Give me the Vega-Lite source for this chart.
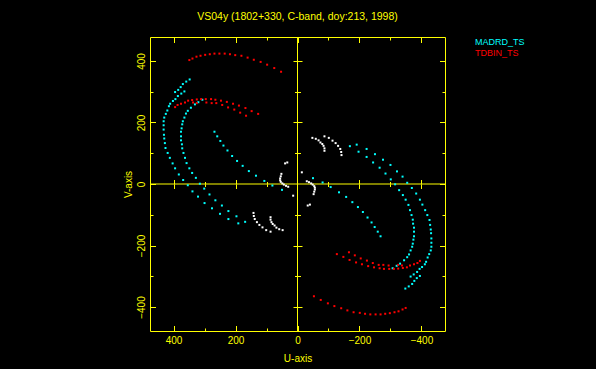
{
  "$schema": "https://vega.github.io/schema/vega-lite/v6.json",
  "width": 295,
  "height": 294,
  "autosize": {"type": "none"},
  "padding": {"left": 150, "top": 37, "right": 151, "bottom": 38},
  "background": "#000000",
  "title": {"text": "VS04y (1802+330, C-band, doy:213, 1998)", "color": "#ffff00", "font": "Liberation Sans", "fontSize": 10.5, "fontWeight": "normal", "anchor": "middle", "frame": "group", "baseline": "alphabetic", "offset": 6.5},
  "config": {"view": {"stroke": "#ffff00", "strokeWidth": 1}},
  "resolve": {"axis": {"x": "independent", "y": "independent"}},
  "layer": [
    {
      "data": {"values": [{"z": 0}]},
      "mark": {"type": "rule", "color": "#ffff00", "strokeWidth": 1},
      "encoding": {"x": {"field": "z", "type": "quantitative", "scale": {"domain": [-476, 476], "reverse": true, "nice": false, "zero": false}, "axis": null}}
    },
    {
      "data": {"values": [{"z": 0}]},
      "mark": {"type": "rule", "color": "#ffff00", "strokeWidth": 1},
      "encoding": {"y": {"field": "z", "type": "quantitative", "scale": {"domain": [-478, 478], "nice": false, "zero": false}, "axis": null}}
    },
    {
      "data": {"values": [{"u": 0, "v": 0}]},
      "mark": {"type": "point", "opacity": 0},
      "encoding": {
        "x": {"field": "u", "type": "quantitative", "axis": {"orient": "bottom", "values": [-400, -200, 0, 200, 400], "domain": false, "grid": false, "ticks": false, "labels": true, "labelColor": "#ffff00", "labelFont": "Liberation Sans", "labelFontSize": 10, "labelBaseline": "alphabetic", "labelPadding": 12, "labelFlush": false, "labelOverlap": false, "title": "U-axis", "titleColor": "#ffff00", "titleFont": "Liberation Sans", "titleFontSize": 10, "titleFontWeight": "normal", "titleBaseline": "alphabetic", "titleY": 30.7}},
        "y": {"field": "v", "type": "quantitative", "axis": {"orient": "left", "values": [-400, -200, 0, 200, 400], "domain": false, "grid": false, "ticks": false, "labels": true, "labelColor": "#ffff00", "labelFont": "Liberation Sans", "labelFontSize": 10, "labelAngle": 270, "labelAlign": "center", "labelBaseline": "alphabetic", "labelPadding": 5.3, "labelFlush": false, "labelOverlap": false, "title": "V-axis", "titleColor": "#ffff00", "titleFont": "Liberation Sans", "titleFontSize": 10, "titleFontWeight": "normal", "titleAngle": 270, "titleAlign": "center", "titleBaseline": "alphabetic", "titleX": -18.6, "titleY": 147}}
      }
    },
    {
      "data": {"values": [{"u": 0, "v": 0}]},
      "mark": {"type": "point", "opacity": 0},
      "encoding": {
        "x": {"field": "u", "type": "quantitative", "axis": {"orient": "bottom", "values": [-400, -200, 0, 200, 400], "domain": false, "grid": false, "labels": false, "title": null, "tickColor": "#ffff00", "tickSize": -5.5}},
        "y": {"field": "v", "type": "quantitative", "axis": {"orient": "left", "values": [-400, -200, 0, 200, 400], "domain": false, "grid": false, "labels": false, "title": null, "tickColor": "#ffff00", "tickSize": -5.5}}
      }
    },
    {
      "data": {"values": [{"u": 0, "v": 0}]},
      "mark": {"type": "point", "opacity": 0},
      "encoding": {
        "x": {"field": "u", "type": "quantitative", "axis": {"orient": "bottom", "values": [-300, -100, 100, 300], "domain": false, "grid": false, "labels": false, "title": null, "tickColor": "#ffff00", "tickSize": -3}},
        "y": {"field": "v", "type": "quantitative", "axis": {"orient": "left", "values": [-300, -100, 100, 300], "domain": false, "grid": false, "labels": false, "title": null, "tickColor": "#ffff00", "tickSize": -3}}
      }
    },
    {
      "data": {"values": [{"u": 0, "v": 0}]},
      "mark": {"type": "point", "opacity": 0},
      "encoding": {
        "x": {"field": "u", "type": "quantitative", "axis": {"orient": "top", "values": [-400, -200, 0, 200, 400], "domain": false, "grid": false, "labels": false, "title": null, "tickColor": "#ffff00", "tickSize": -5.5}},
        "y": {"field": "v", "type": "quantitative", "axis": {"orient": "right", "values": [-400, -200, 0, 200, 400], "domain": false, "grid": false, "labels": false, "title": null, "tickColor": "#ffff00", "tickSize": -5.5}}
      }
    },
    {
      "data": {"values": [{"u": 0, "v": 0}]},
      "mark": {"type": "point", "opacity": 0},
      "encoding": {
        "x": {"field": "u", "type": "quantitative", "axis": {"orient": "top", "values": [-300, -100, 100, 300], "domain": false, "grid": false, "labels": false, "title": null, "tickColor": "#ffff00", "tickSize": -3}},
        "y": {"field": "v", "type": "quantitative", "axis": {"orient": "right", "values": [-300, -100, 100, 300], "domain": false, "grid": false, "labels": false, "title": null, "tickColor": "#ffff00", "tickSize": -3}}
      }
    },
    {
      "data": {"values": [{"u": 0, "v": 0}]},
      "mark": {"type": "point", "opacity": 0},
      "encoding": {
        "x": {"field": "u", "type": "quantitative", "axis": {"orient": "bottom", "offset": -147, "values": [-400, -200, 200, 400], "domain": false, "grid": false, "labels": false, "title": null, "tickColor": "#ffff00", "tickSize": 4.5}},
        "y": {"field": "v", "type": "quantitative", "axis": {"orient": "left", "offset": -147.5, "values": [-400, -200, 200, 400], "domain": false, "grid": false, "labels": false, "title": null, "tickColor": "#ffff00", "tickSize": 4.5}}
      }
    },
    {
      "data": {"values": [{"u": 0, "v": 0}]},
      "mark": {"type": "point", "opacity": 0},
      "encoding": {
        "x": {"field": "u", "type": "quantitative", "axis": {"orient": "bottom", "offset": -147, "values": [-300, -100, 100, 300], "domain": false, "grid": false, "labels": false, "title": null, "tickColor": "#ffff00", "tickSize": 2.5}},
        "y": {"field": "v", "type": "quantitative", "axis": {"orient": "left", "offset": -147.5, "values": [-300, -100, 100, 300], "domain": false, "grid": false, "labels": false, "title": null, "tickColor": "#ffff00", "tickSize": 3}}
      }
    },
    {
      "data": {"values": [{"u": 0, "v": 0}]},
      "mark": {"type": "point", "opacity": 0},
      "encoding": {
        "x": {"field": "u", "type": "quantitative", "axis": {"orient": "top", "offset": -147, "values": [-400, -200, 200, 400], "domain": false, "grid": false, "labels": false, "title": null, "tickColor": "#ffff00", "tickSize": 4.5}},
        "y": {"field": "v", "type": "quantitative", "axis": {"orient": "right", "offset": -147.5, "values": [-400, -200, 200, 400], "domain": false, "grid": false, "labels": false, "title": null, "tickColor": "#ffff00", "tickSize": 4.5}}
      }
    },
    {
      "data": {"values": [{"u": 0, "v": 0}]},
      "mark": {"type": "point", "opacity": 0},
      "encoding": {
        "x": {"field": "u", "type": "quantitative", "axis": {"orient": "top", "offset": -147, "values": [-300, -100, 100, 300], "domain": false, "grid": false, "labels": false, "title": null, "tickColor": "#ffff00", "tickSize": 2.5}},
        "y": {"field": "v", "type": "quantitative", "axis": {"orient": "right", "offset": -147.5, "values": [-300, -100, 100, 300], "domain": false, "grid": false, "labels": false, "title": null, "tickColor": "#ffff00", "tickSize": 3}}
      }
    },
    {
      "data": {"values": [
        {"u":348,"v":340,"s":"MADRD_TS"},{"u":359,"v":333,"s":"MADRD_TS"},{"u":370,"v":325,"s":"MADRD_TS"},{"u":377,"v":315,"s":"MADRD_TS"},{"u":385,"v":306,"s":"MADRD_TS"},{"u":395,"v":299,"s":"MADRD_TS"},{"u":365,"v":301,"s":"MADRD_TS"},{"u":375,"v":294,"s":"MADRD_TS"},{"u":386,"v":286,"s":"MADRD_TS"},{"u":394,"v":276,"s":"MADRD_TS"},{"u":402,"v":270,"s":"MADRD_TS"},{"u":411,"v":261,"s":"MADRD_TS"},{"u":415,"v":253,"s":"MADRD_TS"},{"u":420,"v":239,"s":"MADRD_TS"},{"u":425,"v":228,"s":"MADRD_TS"},{"u":430,"v":216,"s":"MADRD_TS"},{"u":432,"v":204,"s":"MADRD_TS"},{"u":432,"v":191,"s":"MADRD_TS"},{"u":432,"v":177,"s":"MADRD_TS"},{"u":431,"v":160,"s":"MADRD_TS"},{"u":430,"v":148,"s":"MADRD_TS"},{"u":428,"v":133,"s":"MADRD_TS"},{"u":426,"v":117,"s":"MADRD_TS"},{"u":419,"v":101,"s":"MADRD_TS"},{"u":412,"v":85,"s":"MADRD_TS"},{"u":403,"v":67,"s":"MADRD_TS"},{"u":395,"v":51,"s":"MADRD_TS"},{"u":383,"v":31,"s":"MADRD_TS"},{"u":369,"v":13,"s":"MADRD_TS"},{"u":354,"v":-4,"s":"MADRD_TS"},{"u":339,"v":-24,"s":"MADRD_TS"},{"u":321,"v":-41,"s":"MADRD_TS"},{"u":300,"v":-62,"s":"MADRD_TS"},{"u":276,"v":-79,"s":"MADRD_TS"},{"u":250,"v":-97,"s":"MADRD_TS"},{"u":223,"v":-114,"s":"MADRD_TS"},{"u":191,"v":-128,"s":"MADRD_TS"},
        {"u":307,"v":274,"s":"MADRD_TS"},{"u":320,"v":266,"s":"MADRD_TS"},{"u":331,"v":259,"s":"MADRD_TS"},{"u":344,"v":248,"s":"MADRD_TS"},{"u":354,"v":238,"s":"MADRD_TS"},{"u":360,"v":229,"s":"MADRD_TS"},{"u":365,"v":216,"s":"MADRD_TS"},{"u":370,"v":204,"s":"MADRD_TS"},{"u":372,"v":194,"s":"MADRD_TS"},{"u":374,"v":181,"s":"MADRD_TS"},{"u":376,"v":170,"s":"MADRD_TS"},{"u":376,"v":155,"s":"MADRD_TS"},{"u":376,"v":142,"s":"MADRD_TS"},{"u":373,"v":129,"s":"MADRD_TS"},{"u":372,"v":116,"s":"MADRD_TS"},{"u":368,"v":101,"s":"MADRD_TS"},{"u":363,"v":85,"s":"MADRD_TS"},{"u":358,"v":68,"s":"MADRD_TS"},{"u":349,"v":51,"s":"MADRD_TS"},{"u":340,"v":36,"s":"MADRD_TS"},{"u":328,"v":20,"s":"MADRD_TS"},{"u":315,"v":1,"s":"MADRD_TS"},{"u":301,"v":-15,"s":"MADRD_TS"},{"u":284,"v":-34,"s":"MADRD_TS"},{"u":265,"v":-53,"s":"MADRD_TS"},{"u":244,"v":-70,"s":"MADRD_TS"},{"u":223,"v":-88,"s":"MADRD_TS"},{"u":197,"v":-105,"s":"MADRD_TS"},{"u":169,"v":-123,"s":"MADRD_TS"},
        {"u":268,"v":170,"s":"MADRD_TS"},{"u":259,"v":155,"s":"MADRD_TS"},{"u":249,"v":140,"s":"MADRD_TS"},{"u":239,"v":125,"s":"MADRD_TS"},{"u":226,"v":109,"s":"MADRD_TS"},{"u":211,"v":91,"s":"MADRD_TS"},{"u":195,"v":75,"s":"MADRD_TS"},{"u":177,"v":59,"s":"MADRD_TS"},{"u":157,"v":42,"s":"MADRD_TS"},{"u":134,"v":27,"s":"MADRD_TS"},{"u":107,"v":10,"s":"MADRD_TS"},{"u":81,"v":-5,"s":"MADRD_TS"},{"u":50,"v":-19,"s":"MADRD_TS"},
        {"u":-348,"v":-340,"s":"MADRD_TS"},{"u":-359,"v":-333,"s":"MADRD_TS"},{"u":-370,"v":-325,"s":"MADRD_TS"},{"u":-377,"v":-315,"s":"MADRD_TS"},{"u":-385,"v":-306,"s":"MADRD_TS"},{"u":-395,"v":-299,"s":"MADRD_TS"},{"u":-365,"v":-301,"s":"MADRD_TS"},{"u":-375,"v":-294,"s":"MADRD_TS"},{"u":-386,"v":-286,"s":"MADRD_TS"},{"u":-394,"v":-276,"s":"MADRD_TS"},{"u":-402,"v":-270,"s":"MADRD_TS"},{"u":-411,"v":-261,"s":"MADRD_TS"},{"u":-415,"v":-253,"s":"MADRD_TS"},{"u":-420,"v":-239,"s":"MADRD_TS"},{"u":-425,"v":-228,"s":"MADRD_TS"},{"u":-430,"v":-216,"s":"MADRD_TS"},{"u":-432,"v":-204,"s":"MADRD_TS"},{"u":-432,"v":-191,"s":"MADRD_TS"},{"u":-432,"v":-177,"s":"MADRD_TS"},{"u":-431,"v":-160,"s":"MADRD_TS"},{"u":-430,"v":-148,"s":"MADRD_TS"},{"u":-428,"v":-133,"s":"MADRD_TS"},{"u":-426,"v":-117,"s":"MADRD_TS"},{"u":-419,"v":-101,"s":"MADRD_TS"},{"u":-412,"v":-85,"s":"MADRD_TS"},{"u":-403,"v":-67,"s":"MADRD_TS"},{"u":-395,"v":-51,"s":"MADRD_TS"},{"u":-383,"v":-31,"s":"MADRD_TS"},{"u":-369,"v":-13,"s":"MADRD_TS"},{"u":-354,"v":4,"s":"MADRD_TS"},{"u":-339,"v":24,"s":"MADRD_TS"},{"u":-321,"v":41,"s":"MADRD_TS"},{"u":-300,"v":62,"s":"MADRD_TS"},{"u":-276,"v":79,"s":"MADRD_TS"},{"u":-250,"v":97,"s":"MADRD_TS"},{"u":-223,"v":114,"s":"MADRD_TS"},{"u":-191,"v":128,"s":"MADRD_TS"},
        {"u":-307,"v":-274,"s":"MADRD_TS"},{"u":-320,"v":-266,"s":"MADRD_TS"},{"u":-331,"v":-259,"s":"MADRD_TS"},{"u":-344,"v":-248,"s":"MADRD_TS"},{"u":-354,"v":-238,"s":"MADRD_TS"},{"u":-360,"v":-229,"s":"MADRD_TS"},{"u":-365,"v":-216,"s":"MADRD_TS"},{"u":-370,"v":-204,"s":"MADRD_TS"},{"u":-372,"v":-194,"s":"MADRD_TS"},{"u":-374,"v":-181,"s":"MADRD_TS"},{"u":-376,"v":-170,"s":"MADRD_TS"},{"u":-376,"v":-155,"s":"MADRD_TS"},{"u":-376,"v":-142,"s":"MADRD_TS"},{"u":-373,"v":-129,"s":"MADRD_TS"},{"u":-372,"v":-116,"s":"MADRD_TS"},{"u":-368,"v":-101,"s":"MADRD_TS"},{"u":-363,"v":-85,"s":"MADRD_TS"},{"u":-358,"v":-68,"s":"MADRD_TS"},{"u":-349,"v":-51,"s":"MADRD_TS"},{"u":-340,"v":-36,"s":"MADRD_TS"},{"u":-328,"v":-20,"s":"MADRD_TS"},{"u":-315,"v":-1,"s":"MADRD_TS"},{"u":-301,"v":15,"s":"MADRD_TS"},{"u":-284,"v":34,"s":"MADRD_TS"},{"u":-265,"v":53,"s":"MADRD_TS"},{"u":-244,"v":70,"s":"MADRD_TS"},{"u":-223,"v":88,"s":"MADRD_TS"},{"u":-197,"v":105,"s":"MADRD_TS"},{"u":-169,"v":123,"s":"MADRD_TS"},
        {"u":-268,"v":-170,"s":"MADRD_TS"},{"u":-259,"v":-155,"s":"MADRD_TS"},{"u":-249,"v":-140,"s":"MADRD_TS"},{"u":-239,"v":-125,"s":"MADRD_TS"},{"u":-226,"v":-109,"s":"MADRD_TS"},{"u":-211,"v":-91,"s":"MADRD_TS"},{"u":-195,"v":-75,"s":"MADRD_TS"},{"u":-177,"v":-59,"s":"MADRD_TS"},{"u":-157,"v":-42,"s":"MADRD_TS"},{"u":-134,"v":-27,"s":"MADRD_TS"},{"u":-107,"v":-10,"s":"MADRD_TS"},{"u":-81,"v":5,"s":"MADRD_TS"},{"u":-50,"v":19,"s":"MADRD_TS"},
        {"u":349,"v":403,"s":"TDBIN_TS"},{"u":339,"v":408,"s":"TDBIN_TS"},{"u":326,"v":414,"s":"TDBIN_TS"},{"u":313,"v":417,"s":"TDBIN_TS"},{"u":298,"v":420,"s":"TDBIN_TS"},{"u":283,"v":422,"s":"TDBIN_TS"},{"u":268,"v":424,"s":"TDBIN_TS"},{"u":252,"v":424,"s":"TDBIN_TS"},{"u":235,"v":424,"s":"TDBIN_TS"},{"u":218,"v":422,"s":"TDBIN_TS"},{"u":201,"v":419,"s":"TDBIN_TS"},{"u":181,"v":417,"s":"TDBIN_TS"},{"u":161,"v":411,"s":"TDBIN_TS"},{"u":141,"v":404,"s":"TDBIN_TS"},{"u":119,"v":397,"s":"TDBIN_TS"},{"u":98,"v":388,"s":"TDBIN_TS"},{"u":75,"v":377,"s":"TDBIN_TS"},{"u":53,"v":365,"s":"TDBIN_TS"},
        {"u":395,"v":250,"s":"TDBIN_TS"},{"u":387,"v":257,"s":"TDBIN_TS"},{"u":376,"v":261,"s":"TDBIN_TS"},{"u":363,"v":265,"s":"TDBIN_TS"},{"u":353,"v":271,"s":"TDBIN_TS"},{"u":340,"v":273,"s":"TDBIN_TS"},{"u":325,"v":275,"s":"TDBIN_TS"},{"u":311,"v":276,"s":"TDBIN_TS"},{"u":296,"v":276,"s":"TDBIN_TS"},{"u":279,"v":276,"s":"TDBIN_TS"},{"u":265,"v":274,"s":"TDBIN_TS"},{"u":247,"v":271,"s":"TDBIN_TS"},{"u":228,"v":267,"s":"TDBIN_TS"},{"u":208,"v":261,"s":"TDBIN_TS"},{"u":189,"v":255,"s":"TDBIN_TS"},{"u":168,"v":247,"s":"TDBIN_TS"},{"u":148,"v":237,"s":"TDBIN_TS"},{"u":127,"v":228,"s":"TDBIN_TS"},
        {"u":337,"v":265,"s":"TDBIN_TS"},{"u":325,"v":263,"s":"TDBIN_TS"},{"u":294,"v":265,"s":"TDBIN_TS"},{"u":277,"v":263,"s":"TDBIN_TS"},{"u":262,"v":263,"s":"TDBIN_TS"},{"u":243,"v":257,"s":"TDBIN_TS"},{"u":224,"v":249,"s":"TDBIN_TS"},{"u":204,"v":242,"s":"TDBIN_TS"},{"u":185,"v":232,"s":"TDBIN_TS"},{"u":166,"v":222,"s":"TDBIN_TS"},
        {"u":-349,"v":-403,"s":"TDBIN_TS"},{"u":-339,"v":-408,"s":"TDBIN_TS"},{"u":-326,"v":-414,"s":"TDBIN_TS"},{"u":-313,"v":-417,"s":"TDBIN_TS"},{"u":-298,"v":-420,"s":"TDBIN_TS"},{"u":-283,"v":-422,"s":"TDBIN_TS"},{"u":-268,"v":-424,"s":"TDBIN_TS"},{"u":-252,"v":-424,"s":"TDBIN_TS"},{"u":-235,"v":-424,"s":"TDBIN_TS"},{"u":-218,"v":-422,"s":"TDBIN_TS"},{"u":-201,"v":-419,"s":"TDBIN_TS"},{"u":-181,"v":-417,"s":"TDBIN_TS"},{"u":-161,"v":-411,"s":"TDBIN_TS"},{"u":-141,"v":-404,"s":"TDBIN_TS"},{"u":-119,"v":-397,"s":"TDBIN_TS"},{"u":-98,"v":-388,"s":"TDBIN_TS"},{"u":-75,"v":-377,"s":"TDBIN_TS"},{"u":-53,"v":-365,"s":"TDBIN_TS"},
        {"u":-395,"v":-250,"s":"TDBIN_TS"},{"u":-387,"v":-257,"s":"TDBIN_TS"},{"u":-376,"v":-261,"s":"TDBIN_TS"},{"u":-363,"v":-265,"s":"TDBIN_TS"},{"u":-353,"v":-271,"s":"TDBIN_TS"},{"u":-340,"v":-273,"s":"TDBIN_TS"},{"u":-325,"v":-275,"s":"TDBIN_TS"},{"u":-311,"v":-276,"s":"TDBIN_TS"},{"u":-296,"v":-276,"s":"TDBIN_TS"},{"u":-279,"v":-276,"s":"TDBIN_TS"},{"u":-265,"v":-274,"s":"TDBIN_TS"},{"u":-247,"v":-271,"s":"TDBIN_TS"},{"u":-228,"v":-267,"s":"TDBIN_TS"},{"u":-208,"v":-261,"s":"TDBIN_TS"},{"u":-189,"v":-255,"s":"TDBIN_TS"},{"u":-168,"v":-247,"s":"TDBIN_TS"},{"u":-148,"v":-237,"s":"TDBIN_TS"},{"u":-127,"v":-228,"s":"TDBIN_TS"},
        {"u":-337,"v":-265,"s":"TDBIN_TS"},{"u":-325,"v":-263,"s":"TDBIN_TS"},{"u":-294,"v":-265,"s":"TDBIN_TS"},{"u":-277,"v":-263,"s":"TDBIN_TS"},{"u":-262,"v":-263,"s":"TDBIN_TS"},{"u":-243,"v":-257,"s":"TDBIN_TS"},{"u":-224,"v":-249,"s":"TDBIN_TS"},{"u":-204,"v":-242,"s":"TDBIN_TS"},{"u":-185,"v":-232,"s":"TDBIN_TS"},{"u":-166,"v":-222,"s":"TDBIN_TS"},
        {"u":-48,"v":150,"s":"MADRD-TDBIN"},{"u":-59,"v":147,"s":"MADRD-TDBIN"},{"u":-68,"v":142,"s":"MADRD-TDBIN"},{"u":-74,"v":135,"s":"MADRD-TDBIN"},{"u":-80,"v":130,"s":"MADRD-TDBIN"},{"u":-84,"v":124,"s":"MADRD-TDBIN"},{"u":-87,"v":116,"s":"MADRD-TDBIN"},{"u":-87,"v":108,"s":"MADRD-TDBIN"},{"u":-87,"v":155,"s":"MADRD-TDBIN"},{"u":-101,"v":150,"s":"MADRD-TDBIN"},{"u":-113,"v":141,"s":"MADRD-TDBIN"},{"u":-123,"v":133,"s":"MADRD-TDBIN"},{"u":-131,"v":124,"s":"MADRD-TDBIN"},{"u":-138,"v":114,"s":"MADRD-TDBIN"},{"u":-141,"v":104,"s":"MADRD-TDBIN"},{"u":-142,"v":94,"s":"MADRD-TDBIN"},
        {"u":52,"v":33,"s":"MADRD-TDBIN"},{"u":54,"v":25,"s":"MADRD-TDBIN"},{"u":56,"v":18,"s":"MADRD-TDBIN"},{"u":56,"v":12,"s":"MADRD-TDBIN"},{"u":54,"v":7,"s":"MADRD-TDBIN"},{"u":49,"v":2,"s":"MADRD-TDBIN"},{"u":44,"v":-2,"s":"MADRD-TDBIN"},{"u":37,"v":-6,"s":"MADRD-TDBIN"},{"u":30,"v":-9,"s":"MADRD-TDBIN"},{"u":40,"v":67,"s":"MADRD-TDBIN"},{"u":33,"v":70,"s":"MADRD-TDBIN"},{"u":-14,"v":38,"s":"MADRD-TDBIN"},
        {"u":48,"v":-150,"s":"MADRD-TDBIN"},{"u":59,"v":-147,"s":"MADRD-TDBIN"},{"u":68,"v":-142,"s":"MADRD-TDBIN"},{"u":74,"v":-135,"s":"MADRD-TDBIN"},{"u":80,"v":-130,"s":"MADRD-TDBIN"},{"u":84,"v":-124,"s":"MADRD-TDBIN"},{"u":87,"v":-116,"s":"MADRD-TDBIN"},{"u":87,"v":-108,"s":"MADRD-TDBIN"},{"u":87,"v":-155,"s":"MADRD-TDBIN"},{"u":101,"v":-150,"s":"MADRD-TDBIN"},{"u":113,"v":-141,"s":"MADRD-TDBIN"},{"u":123,"v":-133,"s":"MADRD-TDBIN"},{"u":131,"v":-124,"s":"MADRD-TDBIN"},{"u":138,"v":-114,"s":"MADRD-TDBIN"},{"u":141,"v":-104,"s":"MADRD-TDBIN"},{"u":142,"v":-94,"s":"MADRD-TDBIN"},
        {"u":-52,"v":-33,"s":"MADRD-TDBIN"},{"u":-54,"v":-25,"s":"MADRD-TDBIN"},{"u":-56,"v":-18,"s":"MADRD-TDBIN"},{"u":-56,"v":-12,"s":"MADRD-TDBIN"},{"u":-54,"v":-7,"s":"MADRD-TDBIN"},{"u":-49,"v":-2,"s":"MADRD-TDBIN"},{"u":-44,"v":2,"s":"MADRD-TDBIN"},{"u":-37,"v":6,"s":"MADRD-TDBIN"},{"u":-30,"v":9,"s":"MADRD-TDBIN"},{"u":-40,"v":-67,"s":"MADRD-TDBIN"},{"u":-33,"v":-70,"s":"MADRD-TDBIN"},{"u":14,"v":-38,"s":"MADRD-TDBIN"}
      ]},
      "mark": {"type": "square", "size": 4, "filled": true, "opacity": 1},
      "encoding": {
        "x": {"field": "u", "type": "quantitative", "axis": null},
        "y": {"field": "v", "type": "quantitative", "axis": null},
        "color": {"field": "s", "type": "nominal", "scale": {"domain": ["MADRD_TS", "TDBIN_TS", "MADRD-TDBIN"], "range": ["#00ffff", "#ff0000", "#ffffff"]}, "legend": {"orient": "none", "legendX": 316, "legendY": 0.2, "values": ["MADRD_TS", "TDBIN_TS"], "title": null, "symbolSize": 0, "symbolOpacity": 0, "symbolStrokeWidth": 0, "labelOffset": 0, "labelFont": "Liberation Sans", "labelFontSize": 9, "labelBaseline": "middle", "rowPadding": 1.5, "padding": 0, "encode": {"labels": {"update": {"fill": {"scale": "color", "field": "value"}}}}}}
      }
    }
  ]
}
